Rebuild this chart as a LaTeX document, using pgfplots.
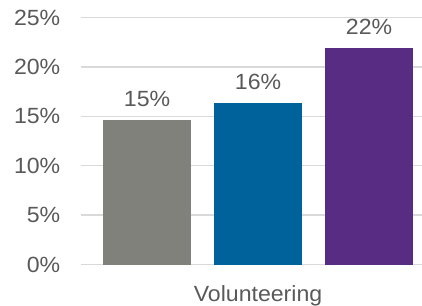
\documentclass[border=0pt]{standalone}
\usepackage{fontspec}
\setmainfont{Liberation Sans}[FakeStretch=1.05]
\usepackage{pgfplots}
\pgfplotsset{compat=1.18}
\definecolor{txt}{HTML}{595959}
\definecolor{gridc}{HTML}{D9D9D9}
\definecolor{cgray}{HTML}{80817B}
\definecolor{cblue}{HTML}{00629B}
\definecolor{cpurple}{HTML}{582C83}
\begin{document}
\begin{tikzpicture}
\begin{axis}[
  scale only axis,
  width=255.75pt, height=185.25pt,
  xmin=-0.595, xmax=2.477,
  ymin=0, ymax=25,
  axis line style={draw=none},
  ytick={0,5,10,15,20,25},
  yticklabel={\pgfmathprintnumber{\tick}\%},
  /pgf/number format/assume math mode=true,
  ymajorgrids, xmajorgrids=false,
  grid style={draw=gridc, line width=1.1pt},
  major tick length=0pt,
  xtick={1}, xticklabels={Volunteering},
  tick label style={font=\fontsize{16.5}{19}\selectfont, text=txt},
  yticklabel style={xshift=-12pt},
  xticklabel style={yshift=-12.5pt},
  bar width=0.79,
  nodes near coords={\pgfmathprintnumber[fixed,precision=0]{\pgfplotspointmeta}\%},
  every node near coord/.append style={font=\fontsize{16.5}{19}\selectfont, text=txt, anchor=south, inner sep=0pt, yshift=10pt},
]
\addplot[ybar, fill=cgray, draw=none] coordinates {(0,14.63)};
\addplot[ybar, fill=cblue, draw=none] coordinates {(1,16.35)};
\addplot[ybar, fill=cpurple, draw=none] coordinates {(2,21.9)};
\end{axis}
\pgfresetboundingbox
\path[use as bounding box] (-60.75pt,-30.375pt) rectangle (255.75pt,198.375pt);
\end{tikzpicture}
\end{document}
